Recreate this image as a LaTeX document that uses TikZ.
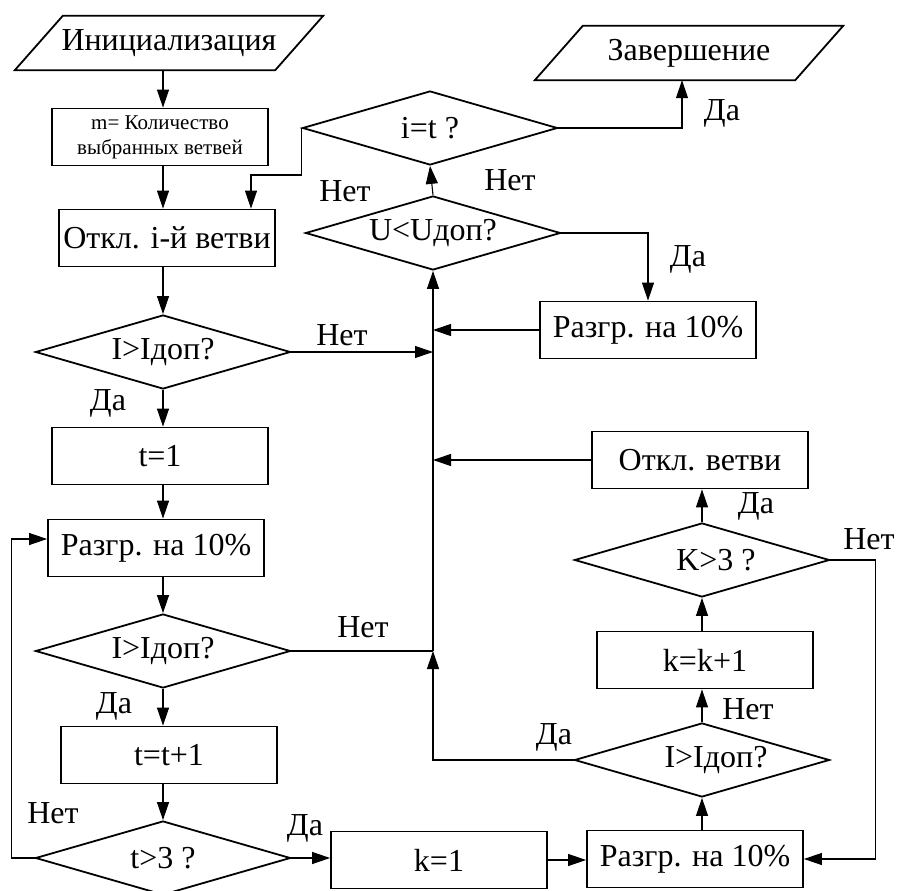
\documentclass[tikz,border=0pt]{standalone}
\usepackage{fontspec}
\setmainfont{Liberation Serif}
\usetikzlibrary{positioning,arrows.meta,shapes.geometric}

\begin{document}
\begin{tikzpicture}[
  x=1pt, y=-1pt,
  font=\fontsize{32}{38}\selectfont,
  proc/.style={draw, line width=1.8pt, minimum width=216pt, minimum height=57pt, inner sep=2pt},
  dec/.style={draw, diamond, aspect=3.4, line width=1.8pt, minimum width=255pt, minimum height=74pt, inner sep=0pt},
  io/.style={minimum width=260pt, minimum height=54pt, inner sep=0pt},
  small/.style={font=\fontsize{21}{25}\selectfont, align=center},
  lbl/.style={inner sep=1pt},
  arr/.style={-{Triangle[length=18pt,width=12pt]}, line width=1.1pt},
]
\useasboundingbox (0,0) rectangle (898,891);
\coordinate (axisL) at (163,0); % left column axis

%% ============ left column ============
\node[io] (init) at (169,43) {Инициализация};
\draw[line width=1.8pt] ([xshift=-24pt]init.south west) -- ([xshift=-24pt]init.south east)
  -- ([xshift=24pt]init.north east) -- ([xshift=24pt]init.north west) -- cycle;
\node[proc, small] (m) at (160,137) {m= Количество\\выбранных ветвей};
\node[proc] (otkl) at (167,238) {Откл. i-й ветви};
\node[dec] (d1) at (163,352) {I>Iдоп?};
\node[proc] (t1) at (160,456) {t=1};
\node[proc] (razg1) at (156,548) {Разгр. на 10\%};
\node[dec] (d2) at (163,651) {I>Iдоп?};
\node[proc] (tt) at (169,755) {t=t+1};
\node[dec] (d3) at (163,858) {t>3 ?};

%% ============ bottom and right column ============
\node[proc] (k1) at (439,860) {k=1};
\node[proc] (razg3) at (695,859) {Разгр. на 10\%};
\node[dec] (d4) at (702,760) {\hspace*{28pt}I>Iдоп?};
\node[proc] (kk) at (705,660) {k=k+1};
\node[dec] (d5) at (702,560) {\hspace*{28pt}K>3 ?};
\node[proc] (otv) at (700,460) {Откл. ветви};

%% ============ top middle ============
\node[proc] (razg2) at (648,330) {Разгр. на 10\%};
\node[dec] (d6) at (433,233) {U<Uдоп?};
\node[dec] (d7) at (430,128) {i=t ?};
\node[io] (stop) at (689,53) {Завершение};
\draw[line width=1.8pt] ([xshift=-24pt]stop.south west) -- ([xshift=-24pt]stop.south east)
  -- ([xshift=24pt]stop.north east) -- ([xshift=24pt]stop.north west) -- cycle;

%% ============ flows ============
\draw[arr] (init.south -| axisL) -- (m.north -| axisL);
\draw[arr] (m.south -| axisL) -- (otkl.north -| axisL);
\draw[arr] (otkl.south -| axisL) -- (d1.north);
\draw[arr] (d1.south) -- (t1.north -| axisL);
\draw[arr] (t1.south -| axisL) -- (razg1.north -| axisL);
\draw[arr] (razg1.south -| axisL) -- (d2.north);
\draw[arr] (d2.south) -- (tt.north -| axisL);
\draw[arr] (tt.south -| axisL) -- (d3.north);
\draw[arr] (d3.west) -- ++(-23,0) |- ([yshift=9pt]razg1.west);
\draw[arr] (d3.east) -- (d3.east -| k1.west);
\draw[arr] (k1.east) -- (k1.east -| razg3.west);
\draw[arr] (razg3.north -| d4) -- (d4.south);
\draw[arr] (d4.north) -- (kk.south -| d4);
\draw[arr] (kk.north -| d4) -- (d5.south);
\draw[arr] (d5.north) -- (otv.south -| d5);
\draw[arr] (d5.east) -- ++(45,0) |- (razg3.east);
% into the trunk
\draw[arr] (otv.west) -- (otv.west -| d6.south);
\draw[arr] (razg2.west) -- (razg2.west -| d6.south);
\draw[arr] (d1.east) -- (d1.east -| d6.south);
\draw[line width=1.1pt] (d2.east) -- (d2.east -| d6.south);
\draw[arr] (d4.west) -| (d2.east -| d6.south);
\draw[arr] (d2.east -| d6.south) -- (d6.south);
% top
\draw[arr] (d6.north) -- (d7.south);
\draw[arr] (d6.east) -| (razg2.north);
\draw[arr] (d7.east) -| ([xshift=-7pt]stop.south);
\draw[arr] (d7.west) -- ++(0,47) -| ([xshift=84pt]otkl.north);

%% ============ labels ============
\node[lbl] (n1) at (345,191) {Нет};
\node[lbl] (n2) at (510,180) {Нет};
\node[lbl] (y1) at (722,113) {Да};
\node[lbl] (y2) at (688,259) {Да};
\node[lbl] (n3) at (342,335) {Нет};
\node[lbl] (y3) at (108,403) {Да};
\node[lbl] (n4) at (363,627) {Нет};
\node[lbl] (y4) at (114,706) {Да};
\node[lbl] (n5) at (53,813) {Нет};
\node[lbl] (y5) at (305,828) {Да};
\node[lbl] (y6) at (554,737) {Да};
\node[lbl] (n6) at (748,709) {Нет};
\node[lbl] (y7) at (756,506) {Да};
\node[lbl] (n7) at (869,539) {Нет};

\end{tikzpicture}
\end{document}
